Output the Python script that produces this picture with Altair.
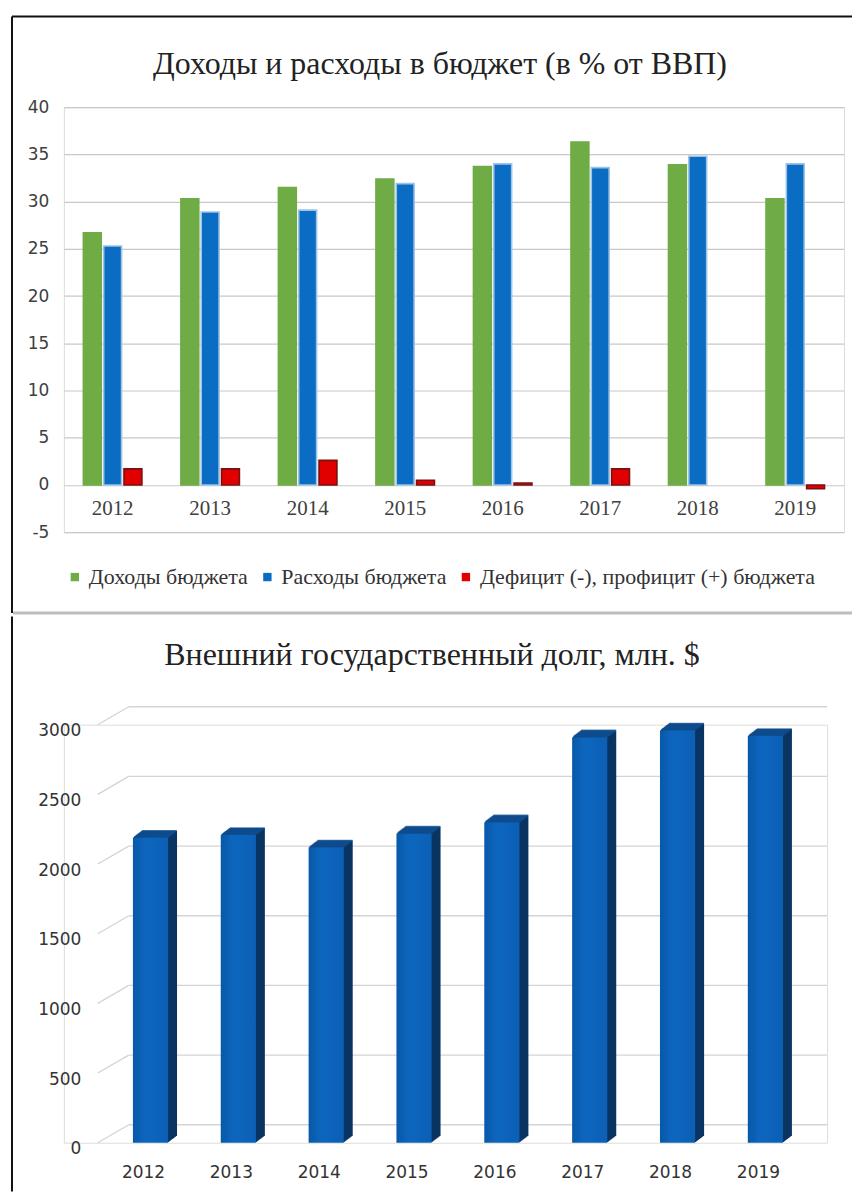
import altair as alt
import pandas as pd

# ---------------- data ----------------
years = ["2012", "2013", "2014", "2015", "2016", "2017", "2018", "2019"]
series = ["Доходы бюджета", "Расходы бюджета", "Дефицит (-), профицит (+) бюджета"]
revenue = [26.7, 30.3, 31.5, 32.4, 33.7, 36.3, 33.9, 30.3]
expenses = [25.3, 28.9, 29.1, 31.9, 34.0, 33.6, 34.8, 34.0]
balance = [1.7, 1.7, 2.6, 0.5, 0.2, 1.7, 0.0, -0.4]
debt = [2190, 2210, 2120, 2220, 2300, 2910, 2960, 2920]
pct_ticks = [-5, 0, 5, 10, 15, 20, 25, 30, 35, 40]
debt_ticks = [0, 500, 1000, 1500, 2000, 2500, 3000]
title_top = "Доходы и расходы в бюджет (в % от ВВП)"
title_bottom = "Внешний государственный долг, млн. $"

budget_df = pd.DataFrame({
    "year": years * 3,
    "series": [s for s in series for _ in years],
    "value": revenue + expenses + balance,
})
year_df = pd.DataFrame({"year": years})
debt_df = pd.DataFrame({"year": years, "debt": debt})
tick_df = pd.DataFrame({"debt": debt_ticks})
one = pd.DataFrame({"k": [0]})

SERIF = "Liberation Serif, DejaVu Serif, serif"
SANS = "DejaVu Sans"
GREEN, BLUE, RED = "#6FAC46", "#0A6CC2", "#E00000"
FRONT_DARK, FRONT, SIDE, TOPC = "#0858A8", "#0D66BE", "#0A3563", "#0F4F92"
BORDER = "#111111"

# ---------------- top chart (plot origin at page 63,105) ----------------
W1, H1 = 782, 426
x1 = alt.X("year:N", sort=years, scale=alt.Scale(paddingInner=0.4, paddingOuter=0.2), axis=None)
y_axis1 = alt.Axis(values=pct_ticks, title=None, grid=True, gridColor="#C8C8C8", gridWidth=1.2,
                   domain=False, ticks=False, labelFont=SANS, labelFontSize=17,
                   labelColor="#404040", labelPadding=15, labelExpr="datum.value")
y_scale1 = alt.Scale(domain=[-5, 40], nice=False)

bars1 = alt.Chart(budget_df).mark_bar(strokeWidth=1.6).encode(
    x=x1,
    xOffset=alt.XOffset("series:N", sort=series, scale=alt.Scale(domain=series, paddingInner=0.12)),
    y=alt.Y("value:Q", scale=y_scale1, axis=y_axis1),
    color=alt.Color("series:N", scale=alt.Scale(domain=series, range=[GREEN, BLUE, RED]),
                    legend=alt.Legend(orient="none", legendX=0, legendY=460, direction="horizontal",
                                      title=None, symbolType="square", symbolSize=70,
                                      symbolStrokeWidth=0, labelFont=SERIF, labelFontSize=22,
                                      labelColor="#333333", columnPadding=8, labelOffset=3,
                                      labelLimit=0)),
    stroke=alt.Stroke("series:N", scale=alt.Scale(domain=series, range=[GREEN, "#9DC3E6", "#7A1010"]),
                      legend=None),
    strokeOpacity=alt.condition("datum.value == 0", alt.value(0), alt.value(1)),
)

labels1 = alt.Chart(year_df).mark_text(font=SERIF, fontSize=21, color="#404040", dy=24,
                                       baseline="middle").encode(
    x=x1, y=alt.datum(0), text="year:N")

title1 = alt.Chart(one).mark_text(text=title_top, font=SERIF, fontSize=32, color="#222222",
                                  align="center", baseline="middle").encode(
    x=alt.value(377), y=alt.value(-43))

top_border = alt.Chart(one).mark_rule(color=BORDER, strokeWidth=2).encode(
    x=alt.value(-52), x2=alt.value(790), y=alt.value(-91))
left_border1 = alt.Chart(one).mark_rule(color=BORDER, strokeWidth=2).encode(
    x=alt.value(-52), y=alt.value(-91), y2=alt.value(507))
separator = alt.Chart(one).mark_rule(color="#BDBDBD", strokeWidth=3).encode(
    x=alt.value(-51), x2=alt.value(790), y=alt.value(507))

top = alt.layer(top_border, left_border1, separator, title1, bars1, labels1).properties(
    width=W1, height=H1)

# ---------------- bottom chart (plot origin at page 63,~722) ----------------
W2, H2 = 765, 419
x2 = alt.X("year:N", sort=years,
           scale=alt.Scale(range=[34, 756], paddingInner=0.6, paddingOuter=0.4),
           axis=alt.Axis(title=None, labelAngle=0, domain=False, ticks=False, labelFont=SANS,
                         labelFontSize=17, labelColor="#333333", labelPadding=22, labelOffset=-7))
y_scale2 = alt.Scale(domain=[0, 3000], nice=False)
y_axis2 = alt.Axis(values=debt_ticks, title=None, grid=False, domain=False, ticks=False,
                   labelFont=SANS, labelFontSize=17, labelColor="#333333", labelPadding=17,
                   labelOffset=6, offset=-34, labelExpr="datum.value")


def ydebt():
    return alt.Y("debt:Q", scale=y_scale2, axis=y_axis2)


grid_back = alt.Chart(tick_df).mark_rule(color="#D4D4D4", strokeWidth=1.3, yOffset=-18).encode(
    x=alt.value(65), x2=alt.value(765), y=ydebt())
grid_diag = alt.Chart(tick_df).mark_rule(color="#D4D4D4", strokeWidth=1.3, y2Offset=-18).encode(
    x=alt.value(34), x2=alt.value(65), y=ydebt(), y2="debt:Q")

depth = []
for i in range(9, 0, -1):
    depth.append(alt.Chart(debt_df).mark_bar(color=SIDE, xOffset=i, x2Offset=i,
                                             yOffset=-0.75 * i, y2Offset=-0.75 * i).encode(
        x=x2, y=ydebt()))
topface = []
for i in range(9, 0, -1):
    topface.append(alt.Chart(debt_df).mark_tick(color=TOPC, orient="horizontal", size=35,
                                                thickness=1.8, xOffset=i,
                                                yOffset=-0.75 * i).encode(x=x2, y=ydebt()))
front = alt.Chart(debt_df).mark_bar(
    color=alt.Gradient(gradient="linear", x1=0, x2=1, y1=0, y2=0,
                       stops=[alt.GradientStop(offset=0, color=FRONT_DARK),
                              alt.GradientStop(offset=0.35, color=FRONT),
                              alt.GradientStop(offset=1, color="#0B60B5")])
).encode(x=x2, y=ydebt())

title2 = alt.Chart(one).mark_text(text=title_bottom, font=SERIF, fontSize=32, color="#222222",
                                  align="center", baseline="middle").encode(
    x=alt.value(369), y=alt.value(-70))

left_border2 = alt.Chart(one).mark_rule(color=BORDER, strokeWidth=2).encode(
    x=alt.value(-52), y=alt.value(-108.5), y2=alt.value(468))

bottom = alt.layer(left_border2, title2, grid_back, grid_diag, *depth, *topface, front).properties(
    width=W2, height=H2)

chart = alt.concat(top, bottom, columns=1, spacing=0).properties(
    padding={"left": 2, "top": 5, "right": 0, "bottom": 0}
).configure_view(stroke=None).configure_concat(spacing=0).configure(background="white")

chart.save("out.html", embed_options={"renderer": "svg", "actions": False})
